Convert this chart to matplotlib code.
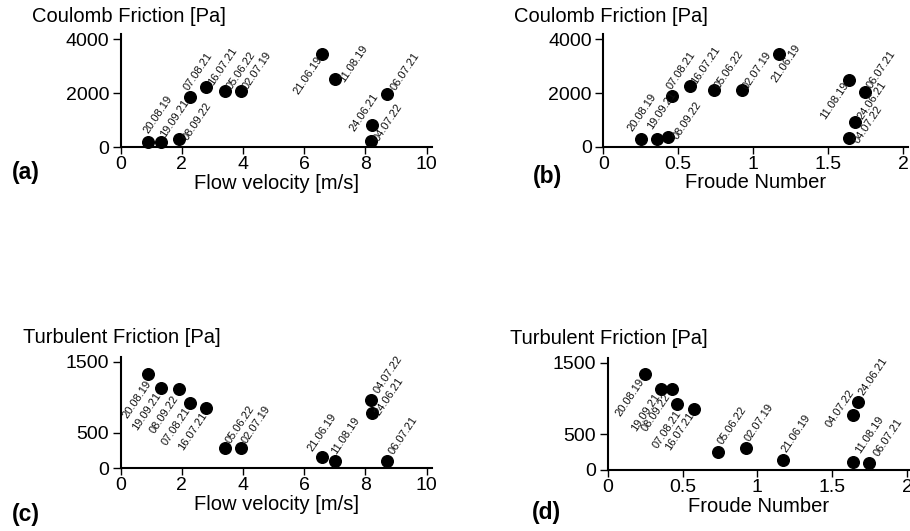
import matplotlib
matplotlib.use("Agg")
import matplotlib.pyplot as plt

plt.rcParams['font.family'] = ['Liberation Sans', 'DejaVu Sans']

# event dates (same order in every array)
dates = ['20.08.19', '19.09.21', '08.09.22', '07.08.21', '16.07.21', '05.06.22',
         '02.07.19', '21.06.19', '11.08.19', '06.07.21', '24.06.21', '04.07.22']

velocity = [0.9, 1.31, 1.92, 2.28, 2.8, 3.4, 3.92, 6.57, 7.02, 8.7, 8.23, 8.2]
froude = [0.25, 0.355, 0.43, 0.46, 0.575, 0.735, 0.922, 1.17, 1.64, 1.745, 1.675, 1.64]

coulomb_v = [210, 210, 322, 1860, 2250, 2085, 2100, 3460, 2520, 1985, 810, 250]
coulomb_fr = [300, 275, 360, 1900, 2250, 2110, 2120, 3460, 2500, 2025, 920, 335]
turbulent_v = [1327, 1134, 1111, 914, 844, 281, 290, 155, 107, 107, 774, 961]
turbulent_fr = [1344, 1131, 1131, 922, 851, 255, 308, 146, 118, 104, 945, 766]

# label offsets (pixels) for the date annotations in each panel
off_a = [(-2, 9), (2, 5), (6, -1), (-4, 7), (4, 2), (4, 2), (5, 2), (-26, -40),
         (6, -3), (6, 4), (-20, -6), (5, 0)]
off_b = [(-11, 8), (-7, 10), (7, -2), (-3, 7), (4, 2), (4, 2), (4, 1), (-5, -28),
         (-27, -39), (4, 4), (5, 3), (7, -5)]
off_c = [(-23, -44), (-26, -42), (-27, -44), (-26, -42), (-26, -42), (3, 5), (4, 5),
         (-12, 6), (-2, 7), (4, 7), (5, -2), (5, 7)]
off_d = [(-27, -42), (-27, -42), (-28, -42), (-21, -44), (-26, -41), (2, 8), (1, 7),
         (1, 8), (4, 9), (7, 7), (3, 7), (-25, -12)]

W, H = 910, 531
fig = plt.figure(figsize=(W / 100, H / 100), dpi=100)


def px_axes(left, right, bottom, top):
    return fig.add_axes([left / W, 1 - bottom / H, (right - left) / W, (bottom - top) / H])


def style(ax, xlim, ylim, xticks, xticklabels, yticks, xlabel):
    ax.set_xlim(*xlim)
    ax.set_ylim(*ylim)
    ax.set_xticks(xticks)
    ax.set_xticklabels(xticklabels)
    ax.set_yticks(yticks)
    for s in ['top', 'right']:
        ax.spines[s].set_visible(False)
    for s in ['left', 'bottom']:
        ax.spines[s].set_linewidth(1.5)
    ax.tick_params(axis='x', direction='out', length=5, width=1, pad=1.5, labelsize=14)
    ax.tick_params(axis='y', direction='out', length=6, width=1, pad=2.4, labelsize=14)
    ax.set_xlabel(xlabel, fontsize=14.5, labelpad=0.5)
    ax.patch.set_alpha(0)


def scatter(ax, x, y, offsets):
    ax.scatter(x, y, s=70, color='black', zorder=3, clip_on=False)
    for d, xi, yi, (dx, dy) in zip(dates, x, y, offsets):
        # offsets were read at the centre line of the text, shift to its baseline
        ax.annotate(d, (xi, yi), xytext=(dx + 2.5, dy - 1), textcoords='offset pixels',
                    rotation=56, rotation_mode='anchor', ha='left', va='baseline',
                    fontsize=8, color='#111111', annotation_clip=False)


vel_ticks = [0, 2, 4, 6, 8, 10]
fr_ticks = [0, 0.5, 1, 1.5, 2]
fr_labels = ['0', '0.5', '1', '1.5', '2']

ax_a = px_axes(120.7, 431.7, 147.3, 34.3)
scatter(ax_a, velocity, coulomb_v, off_a)
style(ax_a, (0, 10.17), (0, 4190), vel_ticks, [str(t) for t in vel_ticks],
      [0, 2000, 4000], 'Flow velocity [m/s]')

ax_b = px_axes(603.3, 907.8, 146.7, 34.3)
scatter(ax_b, froude, coulomb_fr, off_b)
style(ax_b, (0, 2.03), (0, 4190), fr_ticks, fr_labels,
      [0, 2000, 4000], 'Froude Number')

ax_c = px_axes(120.7, 431.7, 468.3, 357)
scatter(ax_c, velocity, turbulent_v, off_c)
style(ax_c, (0, 10.17), (0, 1565), vel_ticks, [str(t) for t in vel_ticks],
      [0, 500, 1500], 'Flow velocity [m/s]')

ax_d = px_axes(607.7, 910, 470, 358.3)
scatter(ax_d, froude, turbulent_fr, off_d)
style(ax_d, (0, 2.02), (0, 1562), fr_ticks, fr_labels,
      [0, 500, 1500], 'Froude Number')

# y-axis titles above each panel
fig.text(32 / W, 1 - 16.5 / H, 'Coulomb Friction [Pa]', fontsize=14.5, ha='left', va='center')
fig.text(514 / W, 1 - 16.5 / H, 'Coulomb Friction [Pa]', fontsize=14.5, ha='left', va='center')
fig.text(23 / W, 1 - 337.5 / H, 'Turbulent Friction [Pa]', fontsize=14.5, ha='left', va='center')
fig.text(510 / W, 1 - 339 / H, 'Turbulent Friction [Pa]', fontsize=14.5, ha='left', va='center')

# panel letters
for x, y, s in [(11.7, 172, '(a)'), (533, 177, '(b)'), (11.7, 514, '(c)'), (532, 513, '(d)')]:
    fig.text(x / W, 1 - y / H, s, fontsize=16.5, fontweight='bold', ha='left', va='center')

fig.savefig('out.png', dpi=100)
